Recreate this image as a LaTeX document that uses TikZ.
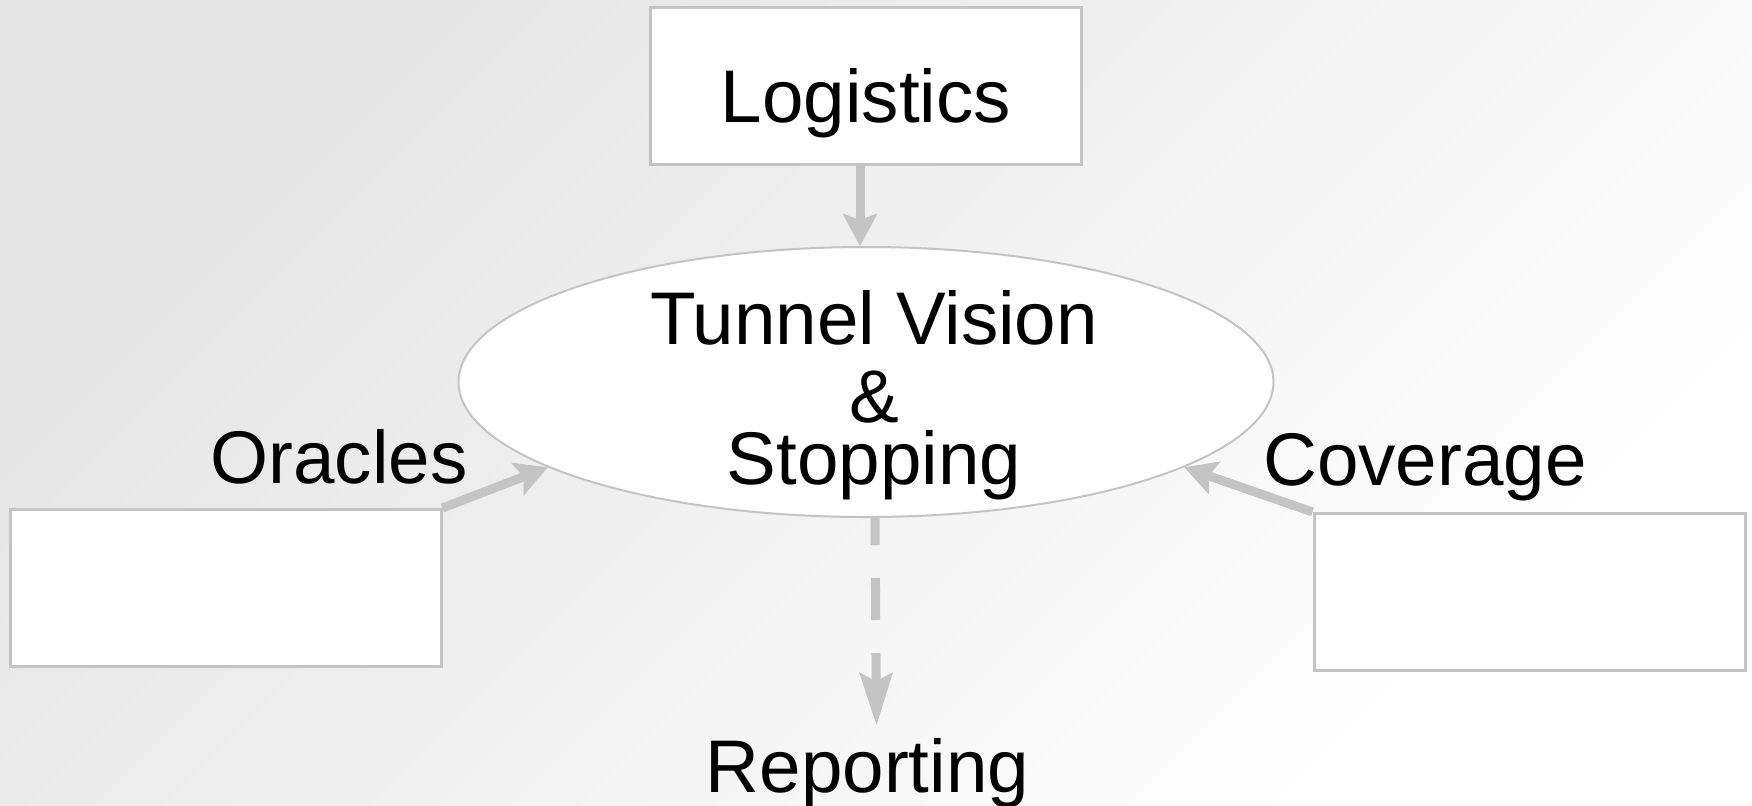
\documentclass[tikz,border=0pt]{standalone}
\usepackage{fontspec}
\setmainfont{Liberation Sans}
\usetikzlibrary{positioning, shapes.geometric, arrows.meta}

\definecolor{edgegray}{HTML}{C4C4C4}
\definecolor{bggray}{HTML}{E5E5E5}

\begin{document}
\begin{tikzpicture}[x=0.5pt, y=-0.5pt,
		txt/.style={font=\fontsize{37.3}{39}\selectfont, inner sep=6pt},
		whitebox/.style={draw=edgegray, line width=1.5pt, fill=white, minimum width=215.5pt, minimum height=78.5pt, inner sep=0pt},
		flow/.style={draw=edgegray, line width=4.5pt, -{Stealth[length=16pt, width=17pt, inset=3pt]}}]
		\useasboundingbox (0,0) rectangle (1752,805);
		\shade[top color=bggray, bottom color=white, shading angle=45] (0,0) rectangle (1752,805);

		\node[ellipse, draw=edgegray, line width=1pt, fill=white, minimum width=407.5pt, minimum height=135pt, inner sep=0pt] (tv) at (866,382) {};
		\node[txt, align=center] (tvtext) at (874,395) {Tunnel Vision\\\&\\[-8pt]Stopping};
		\node[txt, whitebox, text height=36.5pt, text depth=0pt] (logistics) [above=40pt of tv] {Logistics};
		\node[whitebox] (oraclesbox) at (225.5,588) {};
		\node[whitebox] (coveragebox) at (1529.5,592) {};

		\node[txt, anchor=base] (oracles) at (339,483) {Oracles};
		\node[txt, anchor=base] (coverage) at (1425,485) {Coverage};
		\node[txt, anchor=base] (reporting) at (867.5,792) {Reporting};

%		\draw[flow] (logistics) -- (tv);
		\draw[flow] ([xshift=-3pt]logistics.south) -- ([xshift=-3pt]tv.north);
		\draw[flow] (oraclesbox.north east) -- (tv.195);
		\draw[flow] (coveragebox.north west) -- (tv.345);
		\draw[flow, dash pattern=on 21pt off 16.5pt, dash phase=7.5pt, -{Stealth[length=26pt, width=16pt, inset=4pt]}] ([xshift=4.5pt]tv.south) -- ([xshift=4.5pt]reporting.north);
	\end{tikzpicture}
\end{document}
